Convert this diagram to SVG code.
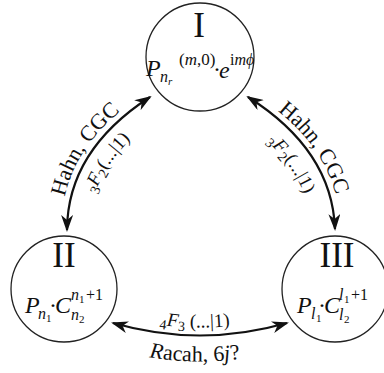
<svg xmlns="http://www.w3.org/2000/svg" width="384" height="373" viewBox="0 0 384 373">
<defs>
<marker id="ah" viewBox="0 0 17 12" markerWidth="17" markerHeight="12" refX="15" refY="6" orient="auto-start-reverse" markerUnits="userSpaceOnUse">
<path d="M0,0 L17,6 L0,12 L5,6 z" fill="#111"/>
</marker>
<path id="pL1" d="M61.5,226.5 Q62,147 144.5,93.5"/>
<path id="pL2" d="M86,241.6 Q86.5,162.1 169,108.6"/>
<path id="pR1" d="M253,93.5 Q337,146.5 340,224.5"/>
<path id="pR2" d="M228,111 Q312,164 315,242"/>
<path id="pB1" d="M113,315 Q200,340 287,315"/>
<path id="pB2" d="M113,349 Q200,374 287,349"/>
</defs>
<style>
text{font-family:"Liberation Serif","Times New Roman",serif;fill:#111}
.node{fill:#fff;stroke:#222;stroke-width:1.3}
.num{font-size:35px}
.it{font-style:italic}
.conn{fill:none;stroke:#111;stroke-width:2.2;marker-start:url(#ah);marker-end:url(#ah)}
.lab{font-size:22px}
.sm{font-size:19px}
.sb{font-size:14px}
</style>
<rect width="384" height="373" fill="#fff"/>
<g id="connectors">
<path class="conn" d="M150,97 Q67.5,150.5 67,230"/>
<path class="conn" d="M248,97 Q332,150 335,229"/>
<path class="conn" d="M113,323 Q200,348 287,323"/>
<text class="lab"><textPath href="#pL1" startOffset="50%" text-anchor="middle">Hahn, CGC</textPath></text>
<text class="sm"><textPath href="#pL2" startOffset="50%" text-anchor="middle"><tspan class="sb" dy="4">3</tspan><tspan class="it" dy="-4">F</tspan><tspan class="sb" dy="4">2</tspan><tspan dy="-4">(...|1)</tspan></textPath></text>
<text class="lab"><textPath href="#pR1" startOffset="50%" text-anchor="middle">Hahn, CGC</textPath></text>
<text class="sm"><textPath href="#pR2" startOffset="50%" text-anchor="middle"><tspan class="sb" dy="4">3</tspan><tspan class="it" dy="-4">F</tspan><tspan class="sb" dy="4">2</tspan><tspan dy="-4">(...|1)</tspan></textPath></text>
<text class="sm"><textPath href="#pB1" startOffset="47%" text-anchor="middle"><tspan class="sb" dy="4">4</tspan><tspan class="it" dy="-4">F</tspan><tspan class="sb" dy="4">3</tspan><tspan dy="-4"> (...|1)</tspan></textPath></text>
<text class="lab"><textPath href="#pB2" startOffset="47%" text-anchor="middle"><tspan class="it">R</tspan>acah, 6<tspan class="it">j</tspan>?</textPath></text>
</g>
<g id="node-I">
<circle class="node" cx="200" cy="57" r="54"/>
<text class="num" x="199" y="37" text-anchor="middle">I</text>
<text class="it" x="146" y="76" font-size="24">P</text>
<text class="it" x="160" y="82" font-size="16">n</text>
<text class="it" x="168" y="85" font-size="11">r</text>
<text x="179" y="65" font-size="17">(<tspan class="it">m</tspan>,0)</text>
<text x="213" y="77" font-size="24">·</text>
<text class="it" x="219" y="78" font-size="24">e</text>
<text x="230" y="65" font-size="16">i<tspan class="it">mϕ</tspan></text>
</g>
<g id="node-II">
<circle class="node" cx="64" cy="289" r="53"/>
<text class="num" x="64" y="267" text-anchor="middle">II</text>
<text class="it" x="25" y="313" font-size="24">P</text>
<text class="it" x="38" y="319" font-size="16">n</text>
<text x="46" y="322" font-size="11">1</text>
<text x="49" y="313" font-size="24">·</text>
<text class="it" x="55" y="313" font-size="24">C</text>
<text class="it" x="71" y="300" font-size="16">n</text>
<text x="79" y="303" font-size="11">1</text>
<text x="86" y="300" font-size="16">+1</text>
<text class="it" x="71" y="320" font-size="16">n</text>
<text x="79" y="323" font-size="11">2</text>
</g>
<g id="node-III">
<circle class="node" cx="335" cy="289" r="53"/>
<text class="num" x="337" y="267" text-anchor="middle">III</text>
<text class="it" x="297" y="313" font-size="24">P</text>
<text class="it" x="311" y="319" font-size="16">l</text>
<text x="316" y="322" font-size="11">1</text>
<text x="318" y="313" font-size="24">·</text>
<text class="it" x="324" y="313" font-size="24">C</text>
<text class="it" x="339" y="300" font-size="16">l</text>
<text x="344" y="303" font-size="11">1</text>
<text x="351" y="300" font-size="16">+1</text>
<text class="it" x="339" y="320" font-size="16">l</text>
<text x="344" y="323" font-size="11">2</text>
</g>
</svg>
